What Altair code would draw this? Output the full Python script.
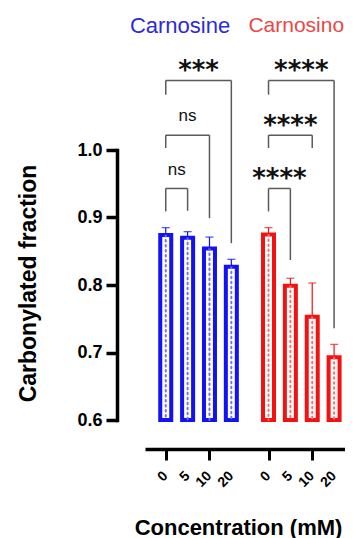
import altair as alt
import pandas as pd

# ---------------- data ----------------
groups = ["Carnosine", "Carnosinol"]
conc_labels = ["0", "5", "10", "20"]
carnosine_mean = [0.874, 0.870, 0.854, 0.827]
carnosine_err = [0.011, 0.009, 0.017, 0.011]
carnosinol_mean = [0.875, 0.799, 0.753, 0.693]
carnosinol_err = [0.010, 0.011, 0.050, 0.019]

# multiple comparisons vs 0 mM (bracket levels in y-units)
cmp_group = ["Carnosine", "Carnosine", "Carnosine", "Carnosinol", "Carnosinol", "Carnosinol"]
cmp_left = [0, 0, 0, 0, 0, 0]
cmp_right = [3, 2, 1, 3, 2, 1]
cmp_label = ["***", "ns", "ns", "****", "****", "****"]
cmp_top = [1.103, 1.022, 0.943, 1.103, 1.022, 0.943]
cmp_left_end = [1.082, 1.003, 0.909, 1.082, 1.003, 0.909]
cmp_right_end = [0.862, 0.899, 0.910, 0.736, 1.003, 0.837]

# ---------------- layout / style ----------------
GROUP_STEP = 4.7
W, H = 228, 270
BAR_COLORS = {"Carnosine": "#1212F2", "Carnosinol": "#F21212"}
DOT_COLORS = {"Carnosine": "#6E6EFF", "Carnosinol": "#FF6E6E"}
LABEL_COLORS = {"Carnosine": "#2B2BDD", "Carnosinol": "#EC4646"}
GROUP_LABEL_X = {"Carnosine": -1.64, "Carnosinol": 3.78}
GROUP_LABEL_SIZE = {"Carnosine": 22, "Carnosinol": 21}
GROUP_LABEL_Y = 1.184
TICK_LABEL_Y = 0.5200
FONT = "Liberation Sans"

means = {"Carnosine": carnosine_mean, "Carnosinol": carnosinol_mean}
errs = {"Carnosine": carnosine_err, "Carnosinol": carnosinol_err}

rows = []
for g_i, g in enumerate(groups):
    for i, c in enumerate(conc_labels):
        rows.append({"group": g, "conc": c, "pos": g_i * GROUP_STEP + i,
                     "mean": means[g][i], "hi": means[g][i] + errs[g][i],
                     "ly": TICK_LABEL_Y})
df = pd.DataFrame(rows)

brows = []
for k in range(len(cmp_label)):
    g_i = groups.index(cmp_group[k])
    xl = g_i * GROUP_STEP + cmp_left[k]
    xr = g_i * GROUP_STEP + cmp_right[k]
    star = cmp_label[k] != "ns"
    brows.append({"xl": xl, "xr": xr, "xm": (xl + xr) / 2, "top": cmp_top[k],
                  "le": cmp_left_end[k], "re": cmp_right_end[k],
                  "label": cmp_label[k], "ly": cmp_top[k] + 0.025, "star": star})
bdf = pd.DataFrame(brows)

gdf = pd.DataFrame({"group": groups,
                    "x": [GROUP_LABEL_X[g] for g in groups],
                    "y": [GROUP_LABEL_Y for g in groups]})

xscale = alt.Scale(domain=[-0.72, 7.97], range=[28, W], nice=False, zero=False)
yscale = alt.Scale(domain=[0.6, 1.0], nice=False, zero=False)

xaxis = alt.Axis(values=list(df["pos"]), labels=False,
                 tickSize=11, tickWidth=3, tickColor="black", domainWidth=3.5,
                 domainColor="black", offset=29, grid=False,
                 title="Concentration (mM)", titleFont=FONT, titleFontSize=22,
                 titleFontWeight="bold", titleColor="black",
                 titleX=121, titleY=85, titleAlign="center", titleBaseline="alphabetic")
yaxis = alt.Axis(values=[0.6, 0.7, 0.8, 0.9, 1.0], format=".1f", labelFont=FONT,
                 labelFontSize=18, labelFontWeight="bold", labelColor="black",
                 labelPadding=4, tickSize=11, tickWidth=3.5, tickColor="black",
                 domainWidth=3.5, domainColor="black", domainCap="square", grid=False,
                 title="Carbonylated fraction", titleFont=FONT, titleFontSize=23,
                 titleFontWeight="bold", titleColor="black",
                 titleX=-82, titleY=133, titleAlign="center", titleBaseline="alphabetic",
                 titleAngle=270)

base = alt.Chart(df)
layers = []
# axes holder (invisible) to draw the axes once
layers.append(base.mark_point(opacity=0).encode(
    x=alt.X("pos:Q", scale=xscale, axis=xaxis),
    y=alt.Y("mean:Q", scale=yscale, axis=yaxis)))

for g in groups:
    sub = base.transform_filter(alt.datum.group == g)
    col = BAR_COLORS[g]
    layers.append(sub.mark_bar(fill="white", stroke=col, strokeWidth=4, size=11).encode(
        x="pos:Q", y="mean:Q", y2=alt.datum(0.6)))
    layers.append(sub.mark_rule(stroke=DOT_COLORS[g], strokeWidth=2,
                                strokeDash=[1.5, 3.5], strokeCap="round").encode(
        x="pos:Q", y="mean:Q", y2=alt.datum(0.6)))
    layers.append(sub.mark_rule(stroke=col, strokeWidth=1.2).encode(
        x="pos:Q", y="mean:Q", y2="hi:Q"))
    layers.append(sub.mark_tick(orient="horizontal", size=8, thickness=1.3, color=col).encode(
        x="pos:Q", y="hi:Q"))

# concentration tick labels (rotated)
layers.append(base.mark_text(font=FONT, fontSize=14, fontWeight="bold", color="black",
                             angle=315, align="right", baseline="middle").encode(
    x="pos:Q", y="ly:Q", text="conc:N"))

bb = alt.Chart(bdf)
BR = dict(color="#5a5a5a", strokeWidth=1.5)
layers.append(bb.mark_rule(**BR).encode(x="xl:Q", x2="xr:Q", y="top:Q"))
layers.append(bb.mark_rule(**BR).encode(x="xl:Q", y="top:Q", y2="le:Q"))
layers.append(bb.mark_rule(**BR).encode(x="xr:Q", y="top:Q", y2="re:Q"))
layers.append(bb.transform_filter(alt.datum.star).mark_text(
    font="DejaVu Sans", fontSize=26, fontWeight="bold", color="#111111",
    baseline="middle", align="center", dy=7.7).encode(
    x="xm:Q", y="ly:Q", text="label:N"))
layers.append(bb.transform_filter(~alt.datum.star).mark_text(
    font=FONT, fontSize=17, color="#111111", baseline="middle",
    align="center", dy=-1.8).encode(x="xm:Q", y="ly:Q", text="label:N"))

gg = alt.Chart(gdf)
for g in groups:
    layers.append(gg.transform_filter(alt.datum.group == g).mark_text(
        font=FONT, fontSize=GROUP_LABEL_SIZE[g], color=LABEL_COLORS[g], align="left",
        baseline="middle").encode(x="x:Q", y="y:Q", text="group:N"))

chart = alt.layer(*layers).properties(
    width=W, height=H,
    padding={"left": 109, "top": 142, "right": 0, "bottom": 118},
    autosize=alt.AutoSizeParams(type="none"),
).configure_view(strokeWidth=0)

chart.save("out.html", embed_options={"renderer": "svg", "actions": False})
